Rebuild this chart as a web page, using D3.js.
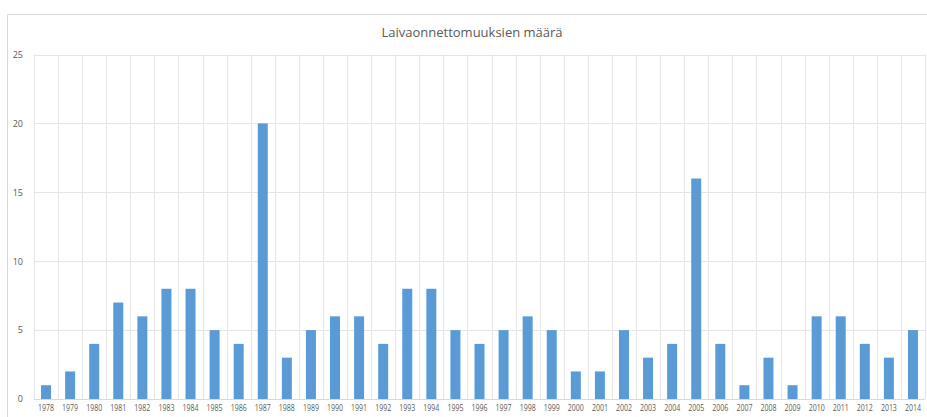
<!DOCTYPE html>
<html>
<head>
<meta charset="utf-8">
<script src="https://cdn.jsdelivr.net/npm/d3@7"></script>
<style>
  html, body { margin: 0; padding: 0; background: #fff; }
  svg { display: block; }
  text { font-family: "Open Sans", "Noto Sans", sans-serif; fill: #595959; }
</style>
</head>
<body>
<svg id="chart" width="927" height="417"></svg>
<script>
// Number of ship accidents per year
const years = ["1978","1979","1980","1981","1982","1983","1984","1985","1986","1987",
  "1988","1989","1990","1991","1992","1993","1994","1995","1996","1997","1998","1999",
  "2000","2001","2002","2003","2004","2005","2006","2007","2008","2009","2010","2011",
  "2012","2013","2014"];
const accidents = [1,2,4,7,6,8,8,5,4,20,3,5,6,6,4,8,8,5,4,5,6,5,2,2,5,3,4,16,4,1,3,1,6,6,4,3,5];
const yTicks = [0,5,10,15,20,25];
const title = "Laivaonnettomuuksien määrä";

const svg = d3.select("#chart");
const plot = { left: 34, right: 925, top: 54.5, bottom: 399 };

// Chart frame
svg.append("path")
  .attr("d", `M7.5,417 V14.5 H927`)
  .attr("fill", "none")
  .attr("stroke", "#d9d9d9")
  .attr("stroke-width", 1);

const xGrid = d3.scaleBand().domain(years).range([plot.left, plot.right]).padding(0);
const xBar = d3.scaleBand().domain(years).range([plot.left, plot.right])
  .paddingInner(0.585).paddingOuter(0.2925);
const y = d3.scaleLinear().domain([0, 25]).range([plot.bottom, plot.top]);

// Horizontal gridlines
svg.append("g")
  .selectAll("line")
  .data(yTicks)
  .join("line")
  .attr("x1", plot.left).attr("x2", plot.right)
  .attr("y1", d => Math.round(y(d)) + 0.5).attr("y2", d => Math.round(y(d)) + 0.5)
  .attr("stroke", d => d === 0 ? "#d9d9d9" : "#e6e6e6")
  .attr("stroke-width", 1);

// Vertical gridlines at category boundaries
const bounds = years.map(d => xGrid(d)).concat([plot.right]);
svg.append("g")
  .selectAll("line")
  .data(bounds)
  .join("line")
  .attr("x1", d => Math.round(d) + 0.5).attr("x2", d => Math.round(d) + 0.5)
  .attr("y1", plot.top).attr("y2", plot.bottom)
  .attr("stroke", "#e6e6e6")
  .attr("stroke-width", 1);

// Bars
svg.append("g")
  .selectAll("rect")
  .data(years.map((yr, i) => ({ yr, v: accidents[i] })))
  .join("rect")
  .attr("x", d => xBar(d.yr))
  .attr("width", xBar.bandwidth())
  .attr("y", d => y(d.v))
  .attr("height", d => y(0) - y(d.v))
  .attr("fill", "#5b9bd5");

// Y axis labels
const yAxis = d3.axisLeft(y).tickValues(yTicks).tickSize(0).tickPadding(0);
const gy = svg.append("g").attr("transform", `translate(23,0)`).call(yAxis);
gy.select(".domain").remove();
gy.selectAll("text")
  .attr("font-size", "9px")
  .attr("font-family", null)
  .attr("fill", "#595959");

// X axis labels
const xAxis = d3.axisBottom(xGrid).tickSize(0).tickPadding(0);
const gx = svg.append("g").attr("transform", `translate(0,${plot.bottom + 5})`).call(xAxis);
gx.select(".domain").remove();
gx.selectAll("text")
  .attr("font-size", "9.5px")
  .attr("font-family", null)
  .attr("fill", "#595959")
  .attr("textLength", 16)
  .attr("lengthAdjust", "spacingAndGlyphs");

// Title
svg.append("text")
  .attr("x", 472)
  .attr("y", 36.5)
  .attr("text-anchor", "middle")
  .attr("font-size", "13px")
  .text(title);
</script>
</body>
</html>
